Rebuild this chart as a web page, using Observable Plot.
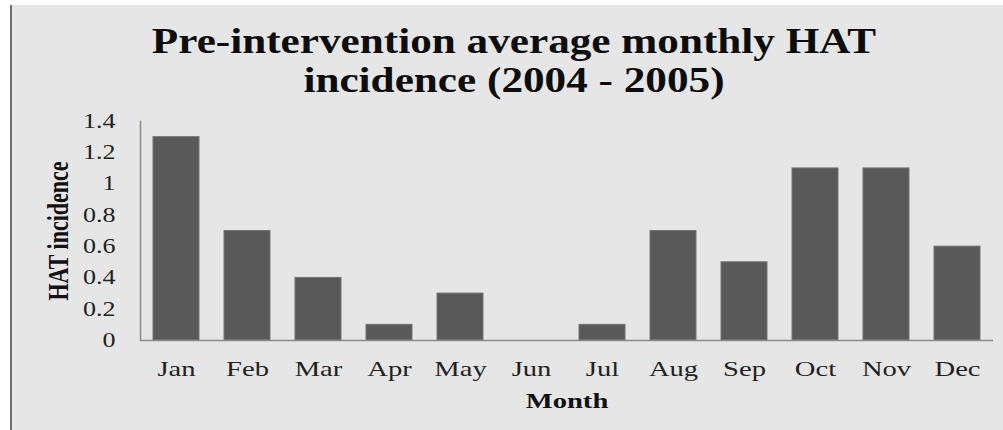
<!DOCTYPE html>
<html>
<head>
<meta charset="utf-8">
<script src="https://cdn.jsdelivr.net/npm/d3@7"></script>
<script src="https://cdn.jsdelivr.net/npm/@observablehq/plot@0.6"></script>
<style>
  html, body { margin: 0; padding: 0; background: #ffffff; }
  #wrap { position: relative; width: 1003px; height: 430px; overflow: hidden; }
  #panel { position: absolute; left: 10px; top: 5px; right: 0; bottom: 0;
           background: #e6e6e6; border-left: 2px solid #6f6f6f; }
  .title { position: absolute; left: 0; width: 1028px; text-align: center;
           font-family: "Liberation Serif", "Times New Roman", serif; font-weight: bold;
           font-size: 36px; color: #0d0d0d; white-space: nowrap;
           transform: scaleX(1.2); transform-origin: 514px 0; line-height: 1; }
  #chart { position: absolute; left: 0; top: 0; }
</style>
</head>
<body>
<div id="wrap">
  <div id="panel"></div>
  <div class="title" style="top:23px">Pre-intervention average monthly HAT</div>
  <div class="title" style="top:62px">incidence (2004 - 2005)</div>
  <div id="chart"></div>
</div>
<script>
// Average monthly HAT incidence before the intervention, 2004-2005
const months = ["Jan", "Feb", "Mar", "Apr", "May", "Jun", "Jul", "Aug", "Sep", "Oct", "Nov", "Dec"];
const incidence = [1.3, 0.7, 0.4, 0.1, 0.3, 0, 0.1, 0.7, 0.5, 1.1, 1.1, 0.6];
const yTicks = [0, 0.2, 0.4, 0.6, 0.8, 1, 1.2, 1.4];
const yLabel = "HAT incidence";
const xLabel = "Month";

const rows = months.map((m, i) => ({month: m, value: incidence[i]}));
const serif = "Liberation Serif, Times New Roman, serif";

const plot = Plot.plot({
  width: 1003,
  height: 430,
  marginLeft: 140,
  marginRight: 10,
  marginTop: 121,
  marginBottom: 90,
  style: {background: "transparent", fontFamily: serif, color: "#222"},
  x: {domain: months, paddingInner: 0.35, paddingOuter: 0.175, label: null},
  y: {domain: [0, 1.4], label: null},
  marks: [
    Plot.barY(rows, {x: "month", y: "value", fill: "#595959", stroke: "#737373", strokeWidth: 1}),
    Plot.frame({anchor: "left", stroke: "#8a8a8a", strokeWidth: 1.5}),
    Plot.ruleY([0], {stroke: "#8a8a8a", strokeWidth: 1.5}),
    Plot.axisY({ticks: yTicks, tickFormat: d => String(d), tickSize: 0, tickPadding: 25,
                fontSize: 20, label: null}),
    Plot.axisX({tickSize: 0, tickPadding: 20, fontSize: 22, label: null}),
    Plot.text([xLabel], {frameAnchor: "bottom", dy: 60, fontSize: 22, fontWeight: "bold",
                         textAnchor: "middle", lineAnchor: "middle",
                         fill: "#111", text: d => d}),
    Plot.text([yLabel], {frameAnchor: "left", dx: -82, rotate: -90, fontSize: 22,
                         textAnchor: "middle", lineAnchor: "middle",
                         fontWeight: "bold", fill: "#111", text: d => d})
  ]
});

// Widen the glyphs horizontally, as in the typeset original
const svg = d3.select(plot);
svg.selectAll('g[aria-label$="tick label"] text').each(function () {
  const t = this.getAttribute("transform") || "";
  this.setAttribute("transform", t + " scale(1.3,1)");
});
svg.selectAll('g[aria-label="text"] text').each(function () {
  const t = this.getAttribute("transform") || "";
  const isRotated = t.includes("rotate");
  this.setAttribute("transform", t + (isRotated ? " scale(1,1.3)" : " scale(1.3,1)"));
});

document.getElementById("chart").appendChild(plot);
</script>
</body>
</html>
